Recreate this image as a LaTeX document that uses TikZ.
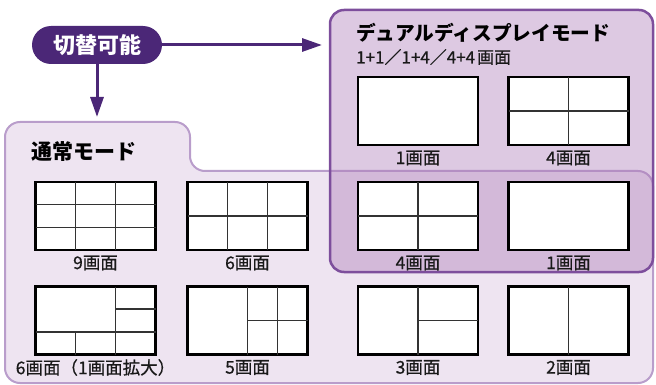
\documentclass[tikz,border=0pt]{standalone}
\usepackage{fontspec}
\setmainfont{Noto Sans CJK JP}
\newfontfamily\medfont{Noto Sans CJK JP}[FakeBold=0.6]
\usetikzlibrary{calc,arrows.meta}
\definecolor{pdark}{HTML}{4B2777}
\definecolor{normfill}{HTML}{EEE4F1}
\definecolor{normborder}{HTML}{B99DCB}
\definecolor{dualborder}{HTML}{7D4E9C}
\definecolor{dualfill}{HTML}{AE7EBA}
\definecolor{gridc}{HTML}{333333}
\newcommand\scrline[5]{\draw[gridln] ($(#1.north west)+(#2*120,#3*68)$) -- ($(#1.north west)+(#4*120,#5*68)$);}
\tikzset{
  screen/.style={draw=black, line width=2.8pt, fill=white, minimum width=120pt, minimum height=68pt, inner sep=0pt, outer sep=0pt},
  gridln/.style={draw=gridc, line width=1.5pt},
  lbl/.style={font=\fontsize{17.5}{17.5}\selectfont\medfont, inner sep=0pt, text=black!90},
  ttl/.style={font=\fontsize{19.7}{19.7}\selectfont\bfseries, inner sep=0pt, anchor=west},
  arr/.style={draw=pdark, line width=3pt, -{Triangle[length=20pt,width=13pt]}},
}
\begin{document}
\begin{tikzpicture}[x=1pt,y=-1pt]
\useasboundingbox (0,0) rectangle (656,385);
% normal mode panel
\draw[fill=normfill, draw=normborder, line width=2pt, rounded corners=15pt]
  (5,383) -- (5,122) -- (190,122) -- (190,171) -- (653,171) -- (653,383) -- cycle;
\coordinate (normtop) at (97,122);
% dual panel
\node (dual) [draw=dualborder, line width=2.5pt, fill=dualfill, fill opacity=0.42, draw opacity=1, rounded corners=14pt, minimum width=323pt, minimum height=262pt, inner sep=0pt, outer sep=0pt] at (491.5,141) {};
% titles
\node (ttlnorm) [ttl, font=\fontsize{21}{21}\selectfont\bfseries] at (31,152) {通常モード};
\node (ttldual) [ttl] at (356,33) {デュアルディスプレイモード};
\node (subdual) [lbl, anchor=west, font=\fontsize{17}{17}\selectfont\medfont] at (356,57) {1+1／1+4／4+4\kern2pt画面};
% screens
\node (s9) [screen] at (95.5,216) {};
\node (s6) [screen] at (247.5,216) {};
\node (s6x) [screen] at (95.5,320.5) {};
\node (s5) [screen] at (247.5,320.5) {};
\node (d1a) [screen] at (418,111) {};
\node (d4a) [screen] at (568.5,111) {};
\node (d4b) [screen] at (418,216) {};
\node (d1b) [screen] at (568.5,216) {};
\node (s3) [screen] at (418,320.5) {};
\node (s2) [screen] at (568.5,320.5) {};
% grid lines
\scrline{s9}{1/3}{0}{1/3}{1}
\scrline{s9}{2/3}{0}{2/3}{1}
\scrline{s9}{0}{1/3}{1}{1/3}
\scrline{s9}{0}{2/3}{1}{2/3}
\scrline{s6}{1/3}{0}{1/3}{1}
\scrline{s6}{2/3}{0}{2/3}{1}
\scrline{s6}{0}{0.5}{1}{0.5}
\scrline{s6x}{2/3}{0}{2/3}{1}
\scrline{s6x}{0}{2/3}{1}{2/3}
\scrline{s6x}{2/3}{1/3}{1}{1/3}
\scrline{s6x}{1/3}{2/3}{1/3}{1}
\scrline{s5}{0.5}{0}{0.5}{1}
\scrline{s5}{0.75}{0}{0.75}{1}
\scrline{s5}{0.5}{0.5}{1}{0.5}
\scrline{d4a}{0.5}{0}{0.5}{1}
\scrline{d4a}{0}{0.5}{1}{0.5}
\scrline{d4b}{0.5}{0}{0.5}{1}
\scrline{d4b}{0}{0.5}{1}{0.5}
\scrline{s3}{0.5}{0}{0.5}{1}
\scrline{s3}{0.5}{0.5}{1}{0.5}
\scrline{s2}{0.5}{0}{0.5}{1}
% labels
\node (l9) [lbl] at ($(s9.south)+(0,13)$) {9画面};
\node (l6) [lbl] at ($(s6.south)+(0,13)$) {6画面};
\node (l6x) [lbl] at ($(s6x.south)+(0,13)$) {6画面（1画面拡大）};
\node (l5) [lbl] at ($(s5.south)+(0,13)$) {5画面};
\node (ld1a) [lbl] at ($(d1a.south)+(0,13)$) {1画面};
\node (ld4a) [lbl] at ($(d4a.south)+(0,13)$) {4画面};
\node (ld4b) [lbl] at ($(d4b.south)+(0,13)$) {4画面};
\node (ld1b) [lbl] at ($(d1b.south)+(0,13)$) {1画面};
\node (l3) [lbl] at ($(s3.south)+(0,13)$) {3画面};
\node (l2) [lbl] at ($(s2.south)+(0,13)$) {2画面};
% pill
\node (pill) [fill=pdark, rounded corners=19pt, minimum width=130pt, minimum height=38pt, inner sep=0pt, text=white, font=\fontsize{22}{22}\selectfont\bfseries] at (97,45) {切替可能};
% arrows
\draw[arr, shorten >=8pt] (pill.east) -- (dual.west |- pill.east);
\draw[arr, shorten >=5pt] (pill.south) -- (normtop);
\end{tikzpicture}
\end{document}
